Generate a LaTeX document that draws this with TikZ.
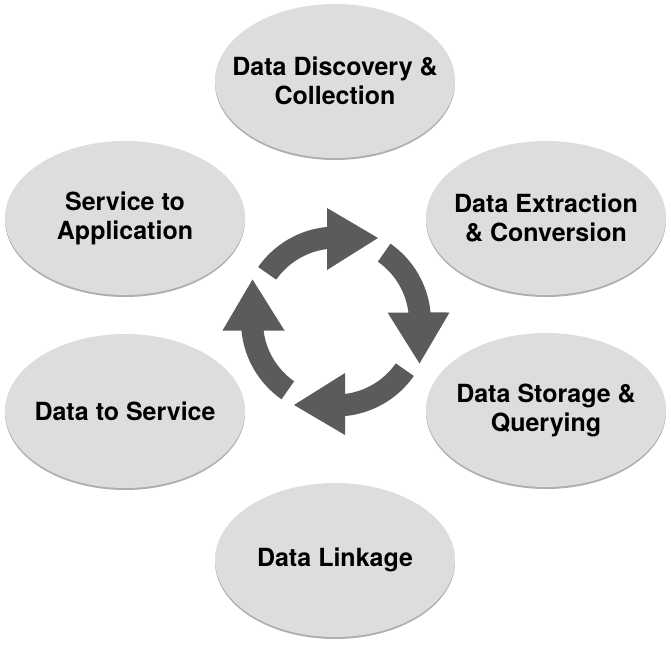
\documentclass[tikz,border=0pt]{standalone}
\usepackage{fontspec}
\setmainfont{TeX Gyre Heros}
\usetikzlibrary{shapes.geometric, shadows}
\definecolor{stagegray}{RGB}{221,221,221}
\definecolor{cyclegray}{RGB}{91,91,91}
\tikzstyle{stage} = [
    ellipse,
    minimum width=240pt,
    minimum height=154pt,
    inner sep=-20pt,
    fill=stagegray,
    align=center,
    font=\fontsize{25}{29}\selectfont\bfseries,
    drop shadow={shadow xshift=0pt, shadow yshift=-2pt, opacity=0.45, fill=black!70}
]
\tikzstyle{cyclearrow} = [fill=cyclegray]

\begin{document}
\begin{tikzpicture}[x=1pt, y=1pt]

\useasboundingbox (0,0) rectangle (671,646);

\node (disc) [stage] at (335,565) {Data Discovery \&\\Collection};
\node (extr) [stage] at (546,428) {Data Extraction\\\& Conversion};
\node (stor) [stage] at (546,236) {Data Storage \&\\Querying};
\node (link) [stage] at (335,86) {Data Linkage};
\node (dserv) [stage] at (125,235) {Data to Service};
\node (sapp) [stage] at (125,428) {Service to\\Application};

\coordinate (hub) at (336,324.5);

% four curved arrows round the hub
\foreach \r in {0,90,180,270} {
  \begin{scope}[shift={(hub)}, rotate=\r]
    \fill[cyclearrow] (145:73pt) -- (145:95pt)
      arc[start angle=145, end angle=95.44, radius=95pt]
      -- (-9pt,113.5pt) -- (42pt,83.5pt) -- (-9pt,51.5pt) -- (-9pt,72.44pt)
      arc[start angle=97.08, end angle=145, radius=73pt] -- cycle;
  \end{scope}
}

\end{tikzpicture}
\end{document}
